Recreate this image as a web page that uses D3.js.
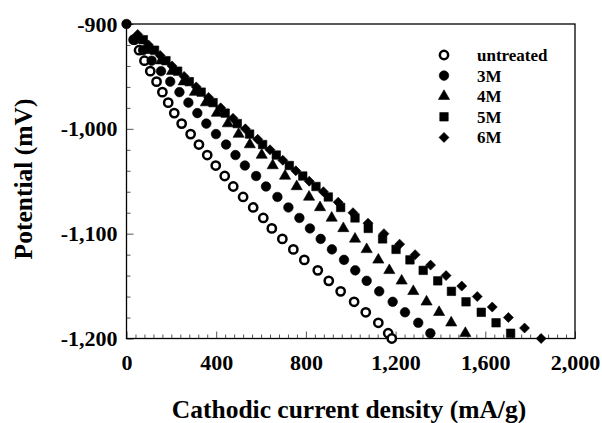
<!DOCTYPE html>
<html>
<head>
<meta charset="utf-8">
<script src="https://cdn.jsdelivr.net/npm/d3@7"></script>
<style>
  body { margin: 0; background: #fff; }
  svg text { font-family: "Liberation Serif", "Times New Roman", serif; font-weight: bold; fill: #000; }
</style>
</head>
<body>
<div id="chart"></div>
<script>
// potentials (mV) at which the current was read
let potMid = [-915, -925, -935, -945, -955, -965, -975, -985, -995, -1005,
    -1015, -1025, -1035, -1045, -1055, -1065, -1075, -1085, -1095, -1105,
    -1115, -1125, -1135, -1145, -1155, -1165, -1175, -1185, -1195];
let potUntreated = potMid.concat([-1200]);
let pot3M = [-900].concat(potMid);
let pot6M = [-910, -920, -930, -940, -950, -960, -970, -980, -990, -1000,
    -1010, -1020, -1030, -1040, -1050, -1060, -1070, -1080, -1090, -1100,
    -1110, -1120, -1130, -1140, -1150, -1160, -1170, -1180, -1190, -1200];

// cathodic current density (mA/g)
let curUntreated = [32, 56, 80, 106, 134, 160, 186, 213, 246, 286,
    323, 360, 398, 438, 476, 520, 565, 610, 648, 695,
    744, 793, 853, 902, 955, 1015, 1067, 1123, 1167, 1183];
let cur3M = [0, 38, 74, 112, 154, 195, 236, 276, 316, 356, 399,
    444, 486, 528, 578, 622, 673, 722, 771, 818, 866,
    916, 970, 1020, 1071, 1127, 1187, 1242, 1301, 1355];
let cur4M = [56, 105, 154, 203, 255, 305, 354, 403, 452, 500,
    550, 603, 652, 707, 759, 814, 863, 915, 967, 1019,
    1071, 1123, 1172, 1227, 1279, 1338, 1394, 1448, 1511];
let cur5M = [75, 125, 176, 228, 280, 333, 386, 440, 494, 549,
    607, 668, 726, 786, 845, 900, 955, 1019, 1078, 1142,
    1202, 1264, 1323, 1388, 1449, 1514, 1582, 1648, 1713];
let cur6M = [50, 98, 150, 203, 257, 311, 366, 420, 475, 530,
    585, 640, 697, 755, 815, 878, 944, 1010, 1077, 1148,
    1218, 1287, 1356, 1425, 1495, 1564, 1631, 1703, 1775, 1849];

let seriesNames = ['untreated', '3M', '4M', '5M', '6M'];
let xTicks = [0, 400, 800, 1200, 1600, 2000];
let yTicks = [-900, -1000, -1100, -1200];

let width = 602, height = 423;
let svg = d3.select('#chart').append('svg')
    .attr('width', width)
    .attr('height', height);

let x = d3.scaleLinear().domain([0, 2000]).range([126.5, 575]);
let y = d3.scaleLinear().domain([-1200, -900]).range([338.5, 24]);

// minor ticks, pointing inward
let minorX = d3.range(0, 2001, 40).filter(v => v % 400 !== 0);
let minorY = d3.range(-1200, -899, 20).filter(v => v % 100 !== 0);

svg.append('g')
    .attr('transform', 'translate(0,' + y(-1200) + ')')
    .call(d3.axisBottom(x).tickValues(minorX).tickSize(-4).tickFormat(''))
    .call(g => g.select('.domain').remove())
    .call(g => g.selectAll('line').attr('stroke', '#555'));

svg.append('g')
    .attr('transform', 'translate(' + x(0) + ',0)')
    .call(d3.axisLeft(y).tickValues(minorY).tickSize(-4).tickFormat(''))
    .call(g => g.select('.domain').remove())
    .call(g => g.selectAll('line').attr('stroke', '#555'));

// major ticks + labels
svg.append('g')
    .attr('transform', 'translate(0,' + y(-1200) + ')')
    .call(d3.axisBottom(x).tickValues(xTicks).tickSize(-7).tickPadding(16)
        .tickFormat(d3.format(',')))
    .call(g => g.select('.domain').remove())
    .call(g => g.selectAll('line').attr('stroke', '#555'))
    .call(g => g.selectAll('text').style('font-size', '22px'));

svg.append('g')
    .attr('transform', 'translate(' + x(0) + ',0)')
    .call(d3.axisLeft(y).tickValues(yTicks).tickSize(-7).tickPadding(9)
        .tickFormat(d => d3.format(',')(d).replace('−', '-')))
    .call(g => g.select('.domain').remove())
    .call(g => g.selectAll('line').attr('stroke', '#555'))
    .call(g => g.selectAll('text').style('font-size', '22px'));

// frame
svg.append('rect')
    .attr('x', x(0))
    .attr('y', y(-900))
    .attr('width', x(2000) - x(0))
    .attr('height', y(-1200) - y(-900))
    .attr('fill', 'none')
    .attr('stroke', '#000')
    .attr('stroke-width', 1.3);

// axis titles
svg.append('text')
    .attr('x', 349)
    .attr('y', 418)
    .attr('text-anchor', 'middle')
    .style('font-size', '25.5px')
    .text('Cathodic current density (mA/g)');

svg.append('text')
    .attr('transform', 'translate(32,179) rotate(-90)')
    .attr('text-anchor', 'middle')
    .style('font-size', '25.5px')
    .text('Potential (mV)');

// markers
let shapes = {
    'untreated': d3.symbol().type(d3.symbolCircle).size(54),
    '3M': d3.symbol().type(d3.symbolCircle).size(72),
    '4M': d3.symbol().type(d3.symbolTriangle).size(54),
    '5M': d3.symbol().type(d3.symbolSquare).size(72),
    '6M': d3.symbol().type(d3.symbolSquare).size(50)
};
let turn = { '6M': 45 };

function placeMark(sel, px, py, name) {
    sel.attr('transform', 'translate(' + px + ',' + py + ') rotate(' + (turn[name] || 0) + ')')
        .attr('d', shapes[name])
        .attr('fill', name === 'untreated' ? '#fff' : '#000')
        .attr('stroke', '#000')
        .attr('stroke-width', name === 'untreated' ? 2.5 : 0.6);
}

function drawSeries(name, pots, curs) {
    let pts = pots.map((p, i) => [curs[i], p]);
    svg.append('g').selectAll('path')
        .data(pts)
        .enter().append('path')
        .each(function (d) { placeMark(d3.select(this), x(d[0]), y(d[1]), name); });
}

drawSeries('untreated', potUntreated, curUntreated);
drawSeries('3M', pot3M, cur3M);
drawSeries('4M', potMid, cur4M);
drawSeries('5M', potMid, cur5M);
drawSeries('6M', pot6M, cur6M);

// legend
let legend = svg.append('g');
seriesNames.forEach(function (name, i) {
    let ly = 55 + i * 20.6;
    placeMark(legend.append('path'), 444, ly, name);
    legend.append('text')
        .attr('x', 477)
        .attr('y', ly + 6)
        .style('font-size', '17px')
        .text(name);
});
</script>
</body>
</html>
